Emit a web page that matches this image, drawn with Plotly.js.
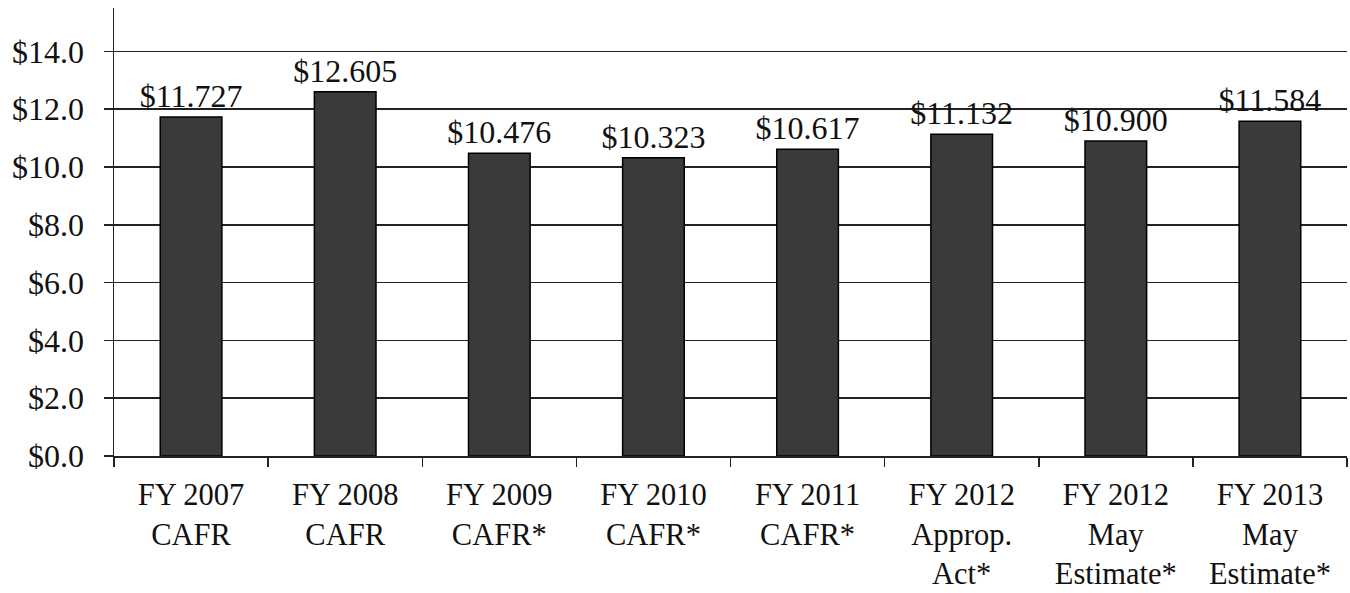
<!DOCTYPE html>
<html>
<head>
<meta charset="utf-8">
<script src="https://cdn.plot.ly/plotly-3.0.1.min.js"></script>
<style>html,body{margin:0;padding:0;background:#fff;}#chart{width:1350px;height:593px;}</style>
</head>
<body>
<div id="chart"></div>
<script>
var categories = [
  "FY 2007<br>CAFR",
  "FY 2008<br>CAFR",
  "FY 2009<br>CAFR*",
  "FY 2010<br>CAFR*",
  "FY 2011<br>CAFR*",
  "FY 2012<br>Approp.<br>Act*",
  "FY 2012<br>May<br>Estimate*",
  "FY 2013<br>May<br>Estimate*"
];
var values = [11.727, 12.605, 10.476, 10.323, 10.617, 11.132, 10.900, 11.584];
var valueLabels = values.map(function(v){ return "$" + v.toFixed(3); });
var yTickVals = [0, 2, 4, 6, 8, 10, 12, 14];
var yTickText = yTickVals.map(function(v){ return "$" + v.toFixed(1); });

var font = "Times New Roman, Liberation Serif, DejaVu Serif, serif";

var trace = {
  type: "bar",
  x: categories,
  y: values,
  text: valueLabels,
  textposition: "outside",
  constraintext: "none",
  cliponaxis: false,
  textfont: {family: font, size: 32, color: "#111"},
  marker: {color: "#3a3a3a", line: {color: "#000", width: 1.5}},
  hoverinfo: "none"
};

var layout = {
  width: 1350,
  height: 593,
  margin: {l: 114, r: 3, t: 8, b: 137},
  paper_bgcolor: "#fff",
  plot_bgcolor: "#fff",
  showlegend: false,
  bargap: 0.6,
  font: {family: font, size: 31, color: "#111"},
  xaxis: {
    type: "category",
    tickson: "boundaries",
    ticks: "outside",
    ticklen: 9,
    tickwidth: 1.5,
    tickcolor: "#222",
    ticklabelstandoff: 11,
    showgrid: false,
    showline: true,
    linecolor: "#222",
    linewidth: 1.5,
    tickangle: 0,
    tickfont: {family: font, size: 30.5, color: "#111"}
  },
  yaxis: {
    range: [0, 15.5],
    tickmode: "array",
    tickvals: yTickVals,
    ticktext: yTickText,
    ticks: "outside",
    ticklen: 9,
    tickwidth: 1.5,
    tickcolor: "#222",
    ticklabelstandoff: 13,
    showgrid: true,
    gridcolor: "#222",
    gridwidth: 1.5,
    showline: true,
    linecolor: "#222",
    linewidth: 1.5,
    zeroline: false,
    tickfont: {family: font, size: 32, color: "#111"}
  }
};

Plotly.newPlot("chart", [trace], layout, {displayModeBar: false, staticPlot: true});
</script>
</body>
</html>
